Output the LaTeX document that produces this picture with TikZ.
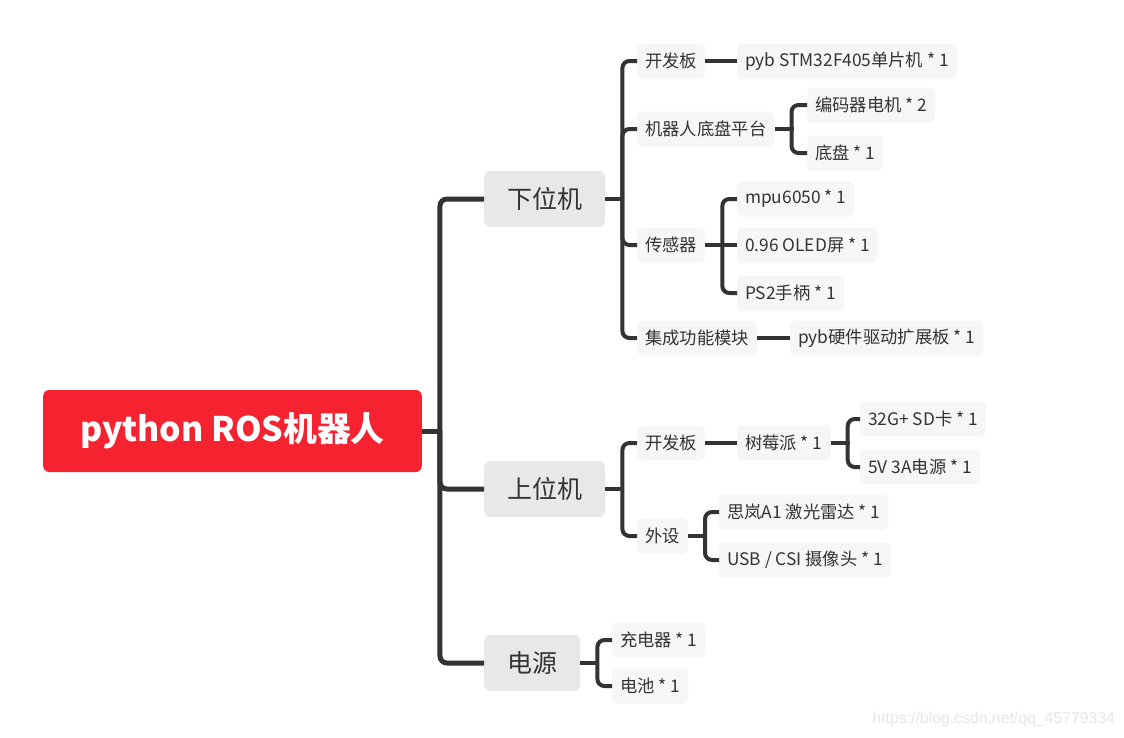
\documentclass[tikz,border=0pt]{standalone}
\usepackage{fontspec}
\setmainfont{Noto Sans CJK SC}
\newfontfamily\wmfont{Liberation Sans}
\definecolor{rootred}{HTML}{F5222F}
\definecolor{maingray}{HTML}{E8E8E8}
\definecolor{leafgray}{HTML}{F6F6F6}
\definecolor{linec}{HTML}{333333}
\definecolor{txt}{HTML}{333333}
\definecolor{wmgray}{HTML}{E6E6E6}
\begin{document}
\begin{tikzpicture}[x=1pt,y=-1pt,
  rootbox/.style={fill=rootred, rounded corners=6pt, text=white, font=\fontsize{33.8}{38}\selectfont\bfseries, minimum height=82pt, inner xsep=37pt, anchor=west},
  mainbox/.style={fill=maingray, rounded corners=6pt, text=txt, font=\fontsize{25}{28}\selectfont, minimum height=56pt, inner xsep=23pt, anchor=west},
  leafbox/.style={fill=leafgray, rounded corners=5pt, text=txt, font=\fontsize{17.3}{20}\selectfont, minimum height=35pt, inner xsep=8pt, anchor=west},
  link/.style={draw=linec, line width=4pt, rounded corners=7pt},
  trunk/.style={link, line width=5pt}]
\useasboundingbox (0,0) rectangle (1124,737);
\node[rootbox] (root) at (43,431) {python ROS机器人};
\node[mainbox] (lower) at (484,199) {下位机};
\node[mainbox] (upper) at (484,489) {上位机};
\node[mainbox] (power) at (484,663) {电源};
\node[leafbox] (lbrd) at (637,61) {开发板};
\node[leafbox] (lchas) at (637,129) {机器人底盘平台};
\node[leafbox] (lsens) at (637,245) {传感器};
\node[leafbox] (lmod) at (637,338) {集成功能模块};
\node[leafbox] (stm) at (737,61) {pyb STM32F405单片机 * 1};
\node[leafbox] (motor) at (807,105) {编码器电机 * 2};
\node[leafbox] (chassis) at (807,153) {底盘 * 1};
\node[leafbox] (mpu) at (737,199) {mpu6050 * 1};
\node[leafbox] (oled) at (737,245) {0.96 OLED屏 * 1};
\node[leafbox] (ps2) at (737,293) {PS2手柄 * 1};
\node[leafbox] (ext) at (790,338) {pyb硬件驱动扩展板 * 1};
\node[leafbox] (ubrd) at (637,443) {开发板};
\node[leafbox] (uper) at (637,536) {外设};
\node[leafbox] (rpi) at (737,443) {树莓派 * 1};
\node[leafbox] (sd) at (860,419) {32G+ SD卡 * 1};
\node[leafbox] (psu) at (860,467) {5V 3A电源 * 1};
\node[leafbox] (lidar) at (719,512) {思岚A1 激光雷达 * 1};
\node[leafbox] (cam) at (719,560) {USB / CSI 摄像头 * 1};
\node[leafbox] (chg) at (612,640) {充电器 * 1};
\node[leafbox] (bat) at (612,686) {电池 * 1};
\node[anchor=west, font=\wmfont\fontsize{15.8}{18}\selectfont, text=wmgray] (wm) at (869,719) {https://blog.csdn.net/qq\_45779334};
\draw[trunk] (root.east) -- ++(20,0);
\draw[trunk] ([xshift=18pt]root.east) |- (lower.west);
\draw[trunk] ([xshift=18pt]root.east) |- (upper.west);
\draw[trunk] ([xshift=18pt]root.east) |- (power.west);
\draw[link] (lower.east) -- ++(19,0);
\draw[link] ([xshift=17pt]lower.east) |- (lbrd.west);
\draw[link] ([xshift=17pt]lower.east) |- (lchas.west);
\draw[link] ([xshift=17pt]lower.east) |- (lsens.west);
\draw[link] ([xshift=17pt]lower.east) |- (lmod.west);
\draw[link] (lbrd.east) -- (stm.west);
\draw[link] (lchas.east) -- ++(19,0);
\draw[link] ([xshift=17pt]lchas.east) |- (motor.west);
\draw[link] ([xshift=17pt]lchas.east) |- (chassis.west);
\draw[link] (lsens.east) -- ++(19,0);
\draw[link] ([xshift=17pt]lsens.east) |- (mpu.west);
\draw[link] ([xshift=17pt]lsens.east) |- (ps2.west);
\draw[link] (lsens.east) -- (oled.west);
\draw[link] (lmod.east) -- (ext.west);
\draw[link] (upper.east) -- ++(19,0);
\draw[link] ([xshift=17pt]upper.east) |- (ubrd.west);
\draw[link] ([xshift=17pt]upper.east) |- (uper.west);
\draw[link] (ubrd.east) -- (rpi.west);
\draw[link] (rpi.east) -- ++(19,0);
\draw[link] ([xshift=17pt]rpi.east) |- (sd.west);
\draw[link] ([xshift=17pt]rpi.east) |- (psu.west);
\draw[link] (uper.east) -- ++(19,0);
\draw[link] ([xshift=17pt]uper.east) |- (lidar.west);
\draw[link] ([xshift=17pt]uper.east) |- (cam.west);
\draw[link] (power.east) -- ++(19,0);
\draw[link] ([xshift=17pt]power.east) |- (chg.west);
\draw[link] ([xshift=17pt]power.east) |- (bat.west);
\end{tikzpicture}
\end{document}
